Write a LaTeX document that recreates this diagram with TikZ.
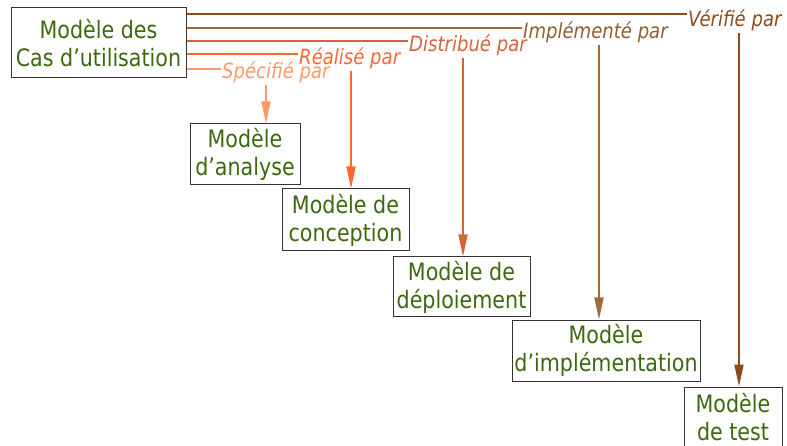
\documentclass[tikz,border=0pt]{standalone}
\usepackage{fontspec}
\setmainfont{DejaVu Sans}[FakeStretch=0.86]
\usetikzlibrary{arrows.meta}

\definecolor{modgreen}{RGB}{60,105,15}
\definecolor{verc}{RGB}{139,75,30}
\definecolor{implc}{RGB}{160,105,55}
\definecolor{distc}{RGB}{210,100,58}
\definecolor{realc}{RGB}{255,102,51}
\definecolor{specc}{RGB}{255,153,102}

\begin{document}
\begin{tikzpicture}[x=1pt, y=-1pt,
    modbox/.style={draw=black!80, line width=1pt, fill=white, text=modgreen, align=center,
        inner sep=2pt, font=\fontsize{24}{28}\selectfont},
    lbl/.style={anchor=base west, inner sep=1pt, font=\fontsize{21}{25}\selectfont\itshape},
    link/.style={line width=1.8pt},
    arr/.style={line width=1.8pt, -{Triangle[length=22pt, width=9pt]}}]
    \clip (0,0) rectangle (787,446);

    % Draw nodes
    \node[modbox, minimum width=175pt, minimum height=70pt] (ucm) at (98.5,43) {Modèle des\\Cas d’utilisation};
    \node[modbox, minimum width=110pt, minimum height=61pt] (ana) at (245,154.5) {Modèle\\d’analyse};
    \node[modbox, minimum width=127pt, minimum height=62pt] (conc) at (345.5,220) {Modèle de\\conception};
    \node[modbox, minimum width=137pt, minimum height=60pt] (depl) at (461.5,287) {Modèle de\\déploiement};
    \node[modbox, minimum width=188pt, minimum height=61pt] (impl) at (606,350.5) {Modèle\\d’implémentation};
    \node[modbox, minimum width=98pt, minimum height=61pt] (test) at (733,417.5) {Modèle\\de test};

    % Labels
    \node[lbl, text=verc] (verif) at (687,27) {Vérifié par};
    \node[lbl, text=implc!90!black] (implem) at (522,39) {Implémenté par};
    \node[lbl, text=distc] (distr) at (408,52) {Distribué par};
    \node[lbl, text=realc] (reali) at (298,65) {Réalisé par};
    \node[lbl, text=specc] (speci) at (221,79) {Spécifié par};

    % Draw connections
    \draw[link, verc] (ucm.east |- 0,14) -- (verif.west |- 0,14);
    \draw[link, implc] (ucm.east |- 0,28) -- (implem.west |- 0,28);
    \draw[link, distc] (ucm.east |- 0,41) -- (distr.west |- 0,41);
    \draw[link, realc] (ucm.east |- 0,54) -- (reali.west |- 0,54);
    \draw[link, specc] (ucm.east |- 0,69) -- (speci.west |- 0,69);

    \draw[arr, verc] (verif.south -| 739,0) -- (test.north -| 739,0);
    \draw[arr, implc] (implem.south -| 599,0) -- (impl.north -| 599,0);
    \draw[arr, distc] (distr.south -| 463,0) -- (depl.north -| 463,0);
    \draw[arr, realc] (reali.south -| 351,0) -- (conc.north -| 351,0);
    \draw[arr, specc] (speci.south -| 266,0) -- (ana.north -| 266,0);
\end{tikzpicture}
\end{document}
